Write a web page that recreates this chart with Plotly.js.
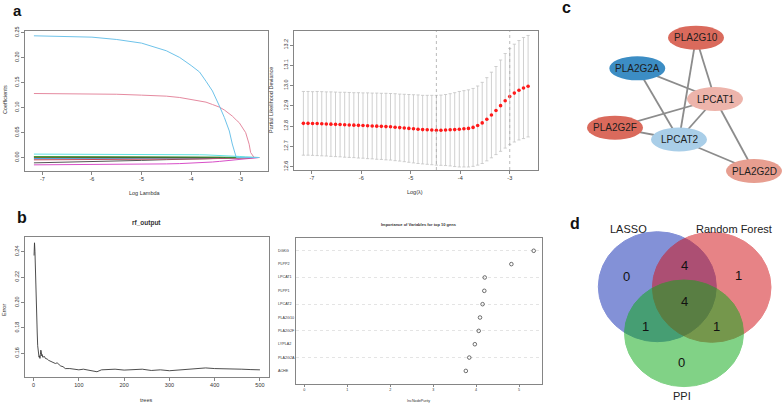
<!DOCTYPE html>
<html><head><meta charset="utf-8">
<script src="https://cdn.plot.ly/plotly-3.0.1.min.js"></script>
<style>html,body{margin:0;padding:0;background:#fff}#chart{width:782px;height:403px}</style>
</head><body><div id="chart"></div>
<script>
// ================= DATA =================
// (a, left) LASSO coefficient paths
const coefLogLambda = [-7.17,-6.5,-6.0,-5.5,-5.0,-4.5,-4.23,-4.0,-3.83,-3.7,-3.57,-3.43,-3.33,-3.23,-3.17,-3.09,-3.03,-2.9,-2.83,-2.8,-2.73,-2.63];
const coef1  = [0.2434,0.2425,0.2407,0.2360,0.2288,0.2135,0.2000,0.1840,0.1710,0.1525,0.1330,0.1030,0.0800,0.0530,0.0270,0,0,0,0,0,0,0];
const coef2  = [0.1280,0.1278,0.1275,0.1265,0.1247,0.1227,0.1200,0.1160,0.1135,0.1107,0.1060,0.1008,0.0950,0.0880,0.0829,0.0750,0.0696,0.0497,0.0265,0.0100,0,0];
const coef3  = [0.0068,0.0068,0.0067,0.0066,0.0065,0.0063,0.0061,0.0058,0.0055,0.0052,0.0048,0.0043,0.0039,0.0034,0.0030,0.0025,0.0021,0.0012,0.0008,0.0006,0.0002,0];
const coef4  = [0.0020,0.0020,0.0020,0.0019,0.0018,0.0016,0.0015,0.0013,0.0011,0.0010,0.0008,0.0006,0.0004,0.0003,0.0002,0.0001,0,0,0,0,0,0];
const coef5  = [0.0009,0.0009,0.0008,0.0008,0.0007,0.0006,0.0005,0.0004,0.0003,0.0003,0.0002,0.0001,0,0,0,0,0,0,0,0,0,0];
const coef6  = [0.0004,0.0004,0.0004,0.0003,0.0003,0.0002,0.0002,0.0001,0.0001,0,0,0,0,0,0,0,0,0,0,0,0,0];
const coef7  = [-0.0015,-0.0015,-0.0014,-0.0013,-0.0012,-0.0010,-0.0009,-0.0008,-0.0007,-0.0006,-0.0005,-0.0004,-0.0003,-0.0002,-0.0001,0,0,0,0,0,0,0];
const coef8  = [-0.0047,-0.0046,-0.0045,-0.0043,-0.0040,-0.0036,-0.0033,-0.0030,-0.0028,-0.0026,-0.0024,-0.0021,-0.0019,-0.0017,-0.0015,-0.0013,-0.0011,-0.0007,-0.0005,-0.0004,-0.0002,0];
const coef9  = [-0.0107,-0.0095,-0.0085,-0.0072,-0.0058,-0.0043,-0.0035,-0.0027,-0.0021,-0.0016,-0.0011,-0.0006,-0.0003,0,0,0,0,0,0,0,0,0];
const coef10 = [-0.0147,-0.0145,-0.0142,-0.0139,-0.0135,-0.0128,-0.0122,-0.0115,-0.0108,-0.0100,-0.0090,-0.0078,-0.0068,-0.0058,-0.0052,-0.0045,-0.0040,-0.0027,-0.0018,-0.0014,-0.0008,0];
const coef11 = [-0.0030,-0.0029,-0.0028,-0.0026,-0.0024,-0.0021,-0.0019,-0.0017,-0.0015,-0.0013,-0.0011,-0.0009,-0.0007,-0.0005,-0.0004,-0.0002,-0.0001,0,0,0,0,0];
const coefXTicks = [-7,-6,-5,-4,-3];
const coefTopNonzero = ["11","11","10","9","5"];

// (a, right) cross-validation curve
const cvLogLambda = [-7.170,-7.077,-6.985,-6.892,-6.799,-6.707,-6.614,-6.521,-6.429,-6.336,-6.244,-6.151,-6.058,-5.966,-5.873,-5.780,-5.688,-5.595,-5.502,-5.410,-5.317,-5.224,-5.132,-5.039,-4.946,-4.854,-4.761,-4.668,-4.576,-4.483,-4.391,-4.298,-4.205,-4.113,-4.020,-3.927,-3.835,-3.742,-3.649,-3.557,-3.464,-3.371,-3.279,-3.186,-3.093,-3.001,-2.908,-2.815,-2.723,-2.630];
const cvDeviance = [12.814,12.814,12.813,12.813,12.812,12.811,12.810,12.809,12.808,12.807,
  12.806,12.805,12.804,12.803,12.802,12.801,12.800,12.799,12.798,12.797,
  12.795,12.793,12.791,12.789,12.787,12.785,12.783,12.782,12.781,12.780,
  12.780,12.781,12.782,12.783,12.785,12.787,12.789,12.794,12.803,12.816,
  12.834,12.855,12.877,12.901,12.925,12.946,12.963,12.977,12.988,12.997];
const cvSE = [0.157,0.157,0.157,0.158,0.158,0.158,0.159,0.159,0.159,0.160,
  0.160,0.160,0.161,0.161,0.162,0.162,0.163,0.163,0.164,0.164,
  0.165,0.165,0.166,0.167,0.168,0.169,0.169,0.170,0.171,0.172,
  0.173,0.175,0.178,0.182,0.186,0.188,0.190,0.192,0.195,0.200,
  0.205,0.211,0.217,0.225,0.233,0.237,0.241,0.245,0.249,0.250];
const cvNonzero = [11,11,11,11,11,11,11,11,11,11,11,11,11,11,11,11,11,11,11,11,11,11,11,11,
  9,9,9,9,9,9,9,9,9,9,9,9,9,9,9,9, 7,7,6,6,5,5,2,2,1,1];
const cvTopIdx = [0,3,6,9,12,15,18,21,24,26,28,30,32,34,36,38,40,42,44,46,48];

// (b, left) random forest OOB error
const rfTrees = [1,2,3,4,5,6,7,8,9,10,11,12,13,14,15,16,17,18,19,20,22,24,26,28,30,33,36,40,44,48,52,56,60,65,70,80,90,100,110,120,130,140,150,160,180,200,220,240,260,280,300,320,340,360,380,400,420,440,460,480,500];
const rfError = [0.237,0.247,0.240,0.221,0.214,0.200,0.188,0.176,0.166,0.160,
  0.158,0.157,0.158,0.156,0.159,0.1625,0.161,0.158,0.159,0.157,
  0.157,0.1575,0.156,0.156,0.1555,0.1545,0.154,0.1535,0.153,0.152,
  0.1525,0.151,0.150,0.1495,0.148,0.148,0.1475,0.147,0.1475,0.147,
  0.1465,0.1455,0.147,0.1472,0.1475,0.1468,0.147,0.1475,0.1465,0.147,
  0.1463,0.1468,0.1475,0.148,0.1485,0.148,0.148,0.1478,0.1475,0.1472,0.147];

// (b, right) variable importance
const rfGenes = ["DGKG","PLPP2","LPCAT1","PLPP1","LPCAT2","PLA2G10","PLA2G2F","LYPLA2","PLA2G2A","ACHE"];
const rfImportance = [5.34,4.82,4.20,4.19,4.15,4.09,4.06,3.97,3.84,3.76];

// (c) PPI network
const netNodes = ["PLA2G10","PLA2G2A","LPCAT1","PLA2G2F","LPCAT2","PLA2G2D"];
const netEdgeFrom = ["PLA2G10","PLA2G10","PLA2G2A","PLA2G2A","LPCAT1","LPCAT1","LPCAT1","PLA2G2F","LPCAT2"];
const netEdgeTo   = ["LPCAT1","LPCAT2","LPCAT1","LPCAT2","PLA2G2F","LPCAT2","PLA2G2D","LPCAT2","PLA2G2D"];

// (d) Venn diagram
const vennSets = ["LASSO","Random Forest","PPI"];
const vennRegions = ["LASSO","RF","PPI","LASSO&RF","LASSO&PPI","RF&PPI","ALL"];
const vennCounts  = [0,1,0,4,1,1,4];

// ================= STYLE / LAYOUT =================
const W = 782, H = 403;
const FONT = 'Liberation Sans, Arial, Helvetica, sans-serif';
const TXT = '#333';
const px = x => x / W, py = y => 1 - y / H;
const dx = (a, b) => [a / W, b / W];
const dy = (top, bottom) => [1 - bottom / H, 1 - top / H];

function rAxis(domain, range, extra) {
  return Object.assign({
    domain, range, showline: true, mirror: true, linecolor: '#666', linewidth: 0.8,
    ticks: 'outside', ticklen: 3, tickwidth: 0.8, tickcolor: '#666',
    showgrid: false, zeroline: false, fixedrange: true,
    tickfont: {family: FONT, size: 5.5, color: TXT}
  }, extra);
}
function ann(text, x, y, o) {
  o = o || {};
  return Object.assign({
    text, x: px(x), y: py(y), xref: 'paper', yref: 'paper', showarrow: false,
    xanchor: 'center', yanchor: 'middle'
  }, o, {font: Object.assign({family: FONT, size: 5.5, color: TXT}, o.font || {})});
}

const coefSeries = [coef1,coef2,coef3,coef4,coef5,coef6,coef7,coef8,coef9,coef10,coef11];
const coefColors = ['#6EC3EA','#E58AA0','#5FE3E3','#3E9E3E','#222222','#F5C710','#2297E6','#C84A5F','#555555','#D84FC8','#9E9E9E'];

const traces = [];
[10,9,8,7,6,5,4,3,2,1,0].forEach(i => {
  traces.push({type:'scatter', mode:'lines', x: coefLogLambda, y: coefSeries[i], xaxis:'x', yaxis:'y',
    line:{color: coefColors[i], width: 1}, hoverinfo:'skip'});
});

// CV
traces.push({type:'scatter', mode:'markers', x: cvLogLambda, y: cvDeviance, xaxis:'x3', yaxis:'y3',
  marker:{color:'#FF1A1A', size:3.6},
  error_y:{type:'data', array: cvSE, visible:true, color:'#C4C4C4', thickness:0.8, width:1.6},
  hoverinfo:'skip'});
let minIdx = 0;
cvDeviance.forEach((v,i) => { if (v < cvDeviance[minIdx]) minIdx = i; });
const thr = cvDeviance[minIdx] + cvSE[minIdx];
let seIdx = minIdx;
cvDeviance.forEach((v,i) => { if (i > minIdx && v <= thr) seIdx = i; });

// RF error
traces.push({type:'scatter', mode:'lines', x: rfTrees, y: rfError, xaxis:'x5', yaxis:'y5',
  line:{color:'#3a3a3a', width:0.9}, hoverinfo:'skip'});

// importance dotchart
traces.push({type:'scatter', mode:'markers', x: rfImportance, y: rfGenes, xaxis:'x6', yaxis:'y6',
  marker:{symbol:'circle-open', size:3.6, color:'#333', line:{width:0.7, color:'#333'}}, hoverinfo:'skip'});

// network layout (pixel space of right column)
const nodePos = {PLA2G10:[696,37.7], PLA2G2A:[637.3,68.3], LPCAT1:[715,99], PLA2G2F:[615,127.7], LPCAT2:[679,139.5], PLA2G2D:[754,171]};
const nodeColor = {PLA2G10:'#DA6A5C', PLA2G2A:'#3C8DC4', LPCAT1:'#EDB4AB', PLA2G2F:'#DA6A5C', LPCAT2:'#A9CEE8', PLA2G2D:'#E79E90'};
const nodeW = 56, nodeH = 24;
const ex = [], ey = [];
netEdgeFrom.forEach((f,i) => {
  const a = nodePos[f], b = nodePos[netEdgeTo[i]];
  ex.push(a[0], b[0], null); ey.push(a[1], b[1], null);
});
traces.push({type:'scatter', mode:'lines', x: ex, y: ey, xaxis:'x7', yaxis:'y7',
  line:{color:'#8C8C8C', width:1.8}, hoverinfo:'skip', connectgaps:false});

const shapes = [];
[minIdx, seIdx].forEach(i => shapes.push({type:'line', xref:'x3', yref:'y3 domain',
  x0: cvLogLambda[i], x1: cvLogLambda[i], y0:0, y1:1, line:{color:'#AAAAAA', width:0.8, dash:'dot'}}));
netNodes.forEach(n => {
  const p = nodePos[n];
  shapes.push({type:'circle', xref:'x7', yref:'y7', x0:p[0]-nodeW/2, x1:p[0]+nodeW/2,
    y0:p[1]-nodeH/2, y1:p[1]+nodeH/2, fillcolor:nodeColor[n], line:{width:0}});
});
const vennGeom = {"LASSO":[657.3,286.7,59,55], "Random Forest":[711.7,287.3,59.3,55], "PPI":[684,333.3,59.5,53.3]};
const vennColor = {"LASSO":'rgb(20,45,180)', "Random Forest":'rgb(210,20,25)', "PPI":'rgb(15,170,25)'};
vennSets.forEach(s => {
  const g = vennGeom[s];
  shapes.push({type:'circle', xref:'x7', yref:'y7', x0:g[0]-g[2], x1:g[0]+g[2], y0:g[1]-g[3], y1:g[1]+g[3],
    fillcolor: vennColor[s], opacity:0.52, line:{color: vennColor[s], width:1}});
});

const annotations = [
  ann('a', 17, 0, {yanchor:'top', font:{size:15, color:'#111', weight:'bold'}}),
  ann('b', 22, 217, {font:{size:16, color:'#111', weight:'bold'}}),
  ann('c', 566, 8, {font:{size:16, color:'#111', weight:'bold'}}),
  ann('d', 575, 223, {font:{size:16, color:'#111', weight:'bold'}}),
  ann('Log Lambda', 145, 193),
  ann('Coefficients', 5, 100, {textangle:-90}),
  ann('Log(λ)', 415, 192),
  ann('Partial Likelihood Deviance', 271, 100, {textangle:-90}),
  ann('<b>rf_output</b>', 146, 223, {font:{size:6.5}}),
  ann('trees', 146, 400),
  ann('Error', 4, 310, {textangle:-90}),
  ann('<b>Importance of Variables for top 10 gens</b>', 419, 224, {font:{size:4}}),
  ann('IncNodePurity', 419, 401, {font:{size:3.7}})
];
rfGenes.forEach((g,i) => annotations.push({text:g, xref:'paper', yref:'y6', x: px(276), y: i,
  showarrow:false, xanchor:'left', yanchor:'middle', font:{family:FONT, size:3.7, color:'#333'}}));
netNodes.forEach(n => annotations.push({text:n, xref:'x7', yref:'y7', x: nodePos[n][0], y: nodePos[n][1],
  showarrow:false, xanchor:'center', yanchor:'middle', font:{family:FONT, size:10, color:'#1E1E1E'}}));
const vennLabelPos = {"LASSO":[628.3,229], "Random Forest":[734.3,229], "PPI":[681.7,396]};
vennSets.forEach(s => annotations.push({text:s, xref:'x7', yref:'y7', x: vennLabelPos[s][0], y: vennLabelPos[s][1],
  showarrow:false, xanchor:'center', yanchor:'middle', font:{family:FONT, size:11, color:'#222'}}));
const vennCountPos = {"LASSO":[626,276], "RF":[738.3,275], "PPI":[681.7,362.3], "LASSO&RF":[684,265.7],
  "LASSO&PPI":[645,326], "RF&PPI":[716.7,326], "ALL":[684,301]};
vennRegions.forEach((r,i) => annotations.push({text:String(vennCounts[i]), xref:'x7', yref:'y7',
  x: vennCountPos[r][0], y: vennCountPos[r][1], showarrow:false, xanchor:'center', yanchor:'middle',
  font:{family:FONT, size:13, color:'#111'}}));

const layout = {
  width: W, height: H, margin:{l:0, r:0, t:0, b:0, pad:0},
  paper_bgcolor:'#fff', plot_bgcolor:'#fff', showlegend:false, hovermode:false,
  font:{family: FONT, color: TXT},
  xaxis: rAxis(dx(25,268), [-7.35,-2.45], {anchor:'y', tickvals: coefXTicks, ticktext: coefXTicks.map(String)}),
  yaxis: rAxis(dy(31,171), [-0.027,0.253], {anchor:'x', tick0:0, dtick:0.05, tickformat:'.2f', tickangle:-90}),
  xaxis2: {overlaying:'x', anchor:'y', side:'top', range:[-7.35,-2.45], tickvals: coefXTicks, ticktext: coefTopNonzero,
    ticks:'outside', ticklen:6, tickcolor:'rgba(0,0,0,0)', showline:false, showgrid:false, zeroline:false,
    fixedrange:true, tickfont:{family:FONT, size:5.5, color:TXT}},
  xaxis3: rAxis(dx(294,538), [-7.36,-2.43], {anchor:'y3', tickvals: coefXTicks, ticktext: coefXTicks.map(String)}),
  yaxis3: rAxis(dy(31,170), [12.584,13.269], {anchor:'x3', tick0:12.6, dtick:0.1, tickformat:'.1f', tickangle:-90}),
  xaxis4: {overlaying:'x3', anchor:'y3', side:'top', range:[-7.36,-2.43],
    tickvals: cvTopIdx.map(i => cvLogLambda[i]), ticktext: cvTopIdx.map(i => String(cvNonzero[i])),
    ticks:'outside', ticklen:6, tickcolor:'rgba(0,0,0,0)', showline:false, showgrid:false, zeroline:false,
    fixedrange:true, tickfont:{family:FONT, size:5.5, color:TXT}},
  xaxis5: rAxis(dx(25,269), [-19,520], {anchor:'y5', tick0:0, dtick:100}),
  yaxis5: rAxis(dy(236.7,376.7), [0.1416,0.2518], {anchor:'x5', tick0:0.16, dtick:0.02, tickformat:'.2f', tickangle:-90}),
  xaxis6: rAxis(dx(295.7,542.3), [-0.2,5.54], {anchor:'y6', tick0:0, dtick:1, ticklen:2,
    tickfont:{family:FONT, size:3.7, color:TXT}}),
  yaxis6: rAxis(dy(237.7,384), [9.98,-0.98], {anchor:'x6', type:'category', categoryorder:'array',
    categoryarray: rfGenes, ticks:'', showticklabels:false, showgrid:true, gridcolor:'#D8D8D8',
    gridwidth:0.7, griddash:'dot'}),
  xaxis7: {domain: dx(545,782), range:[545,782], anchor:'y7', visible:false, fixedrange:true},
  yaxis7: {domain: [0,1], range:[403,0], anchor:'x7', visible:false, fixedrange:true},
  shapes, annotations
};

Plotly.newPlot('chart', traces, layout, {staticPlot:true, displayModeBar:false});
</script></body></html>
